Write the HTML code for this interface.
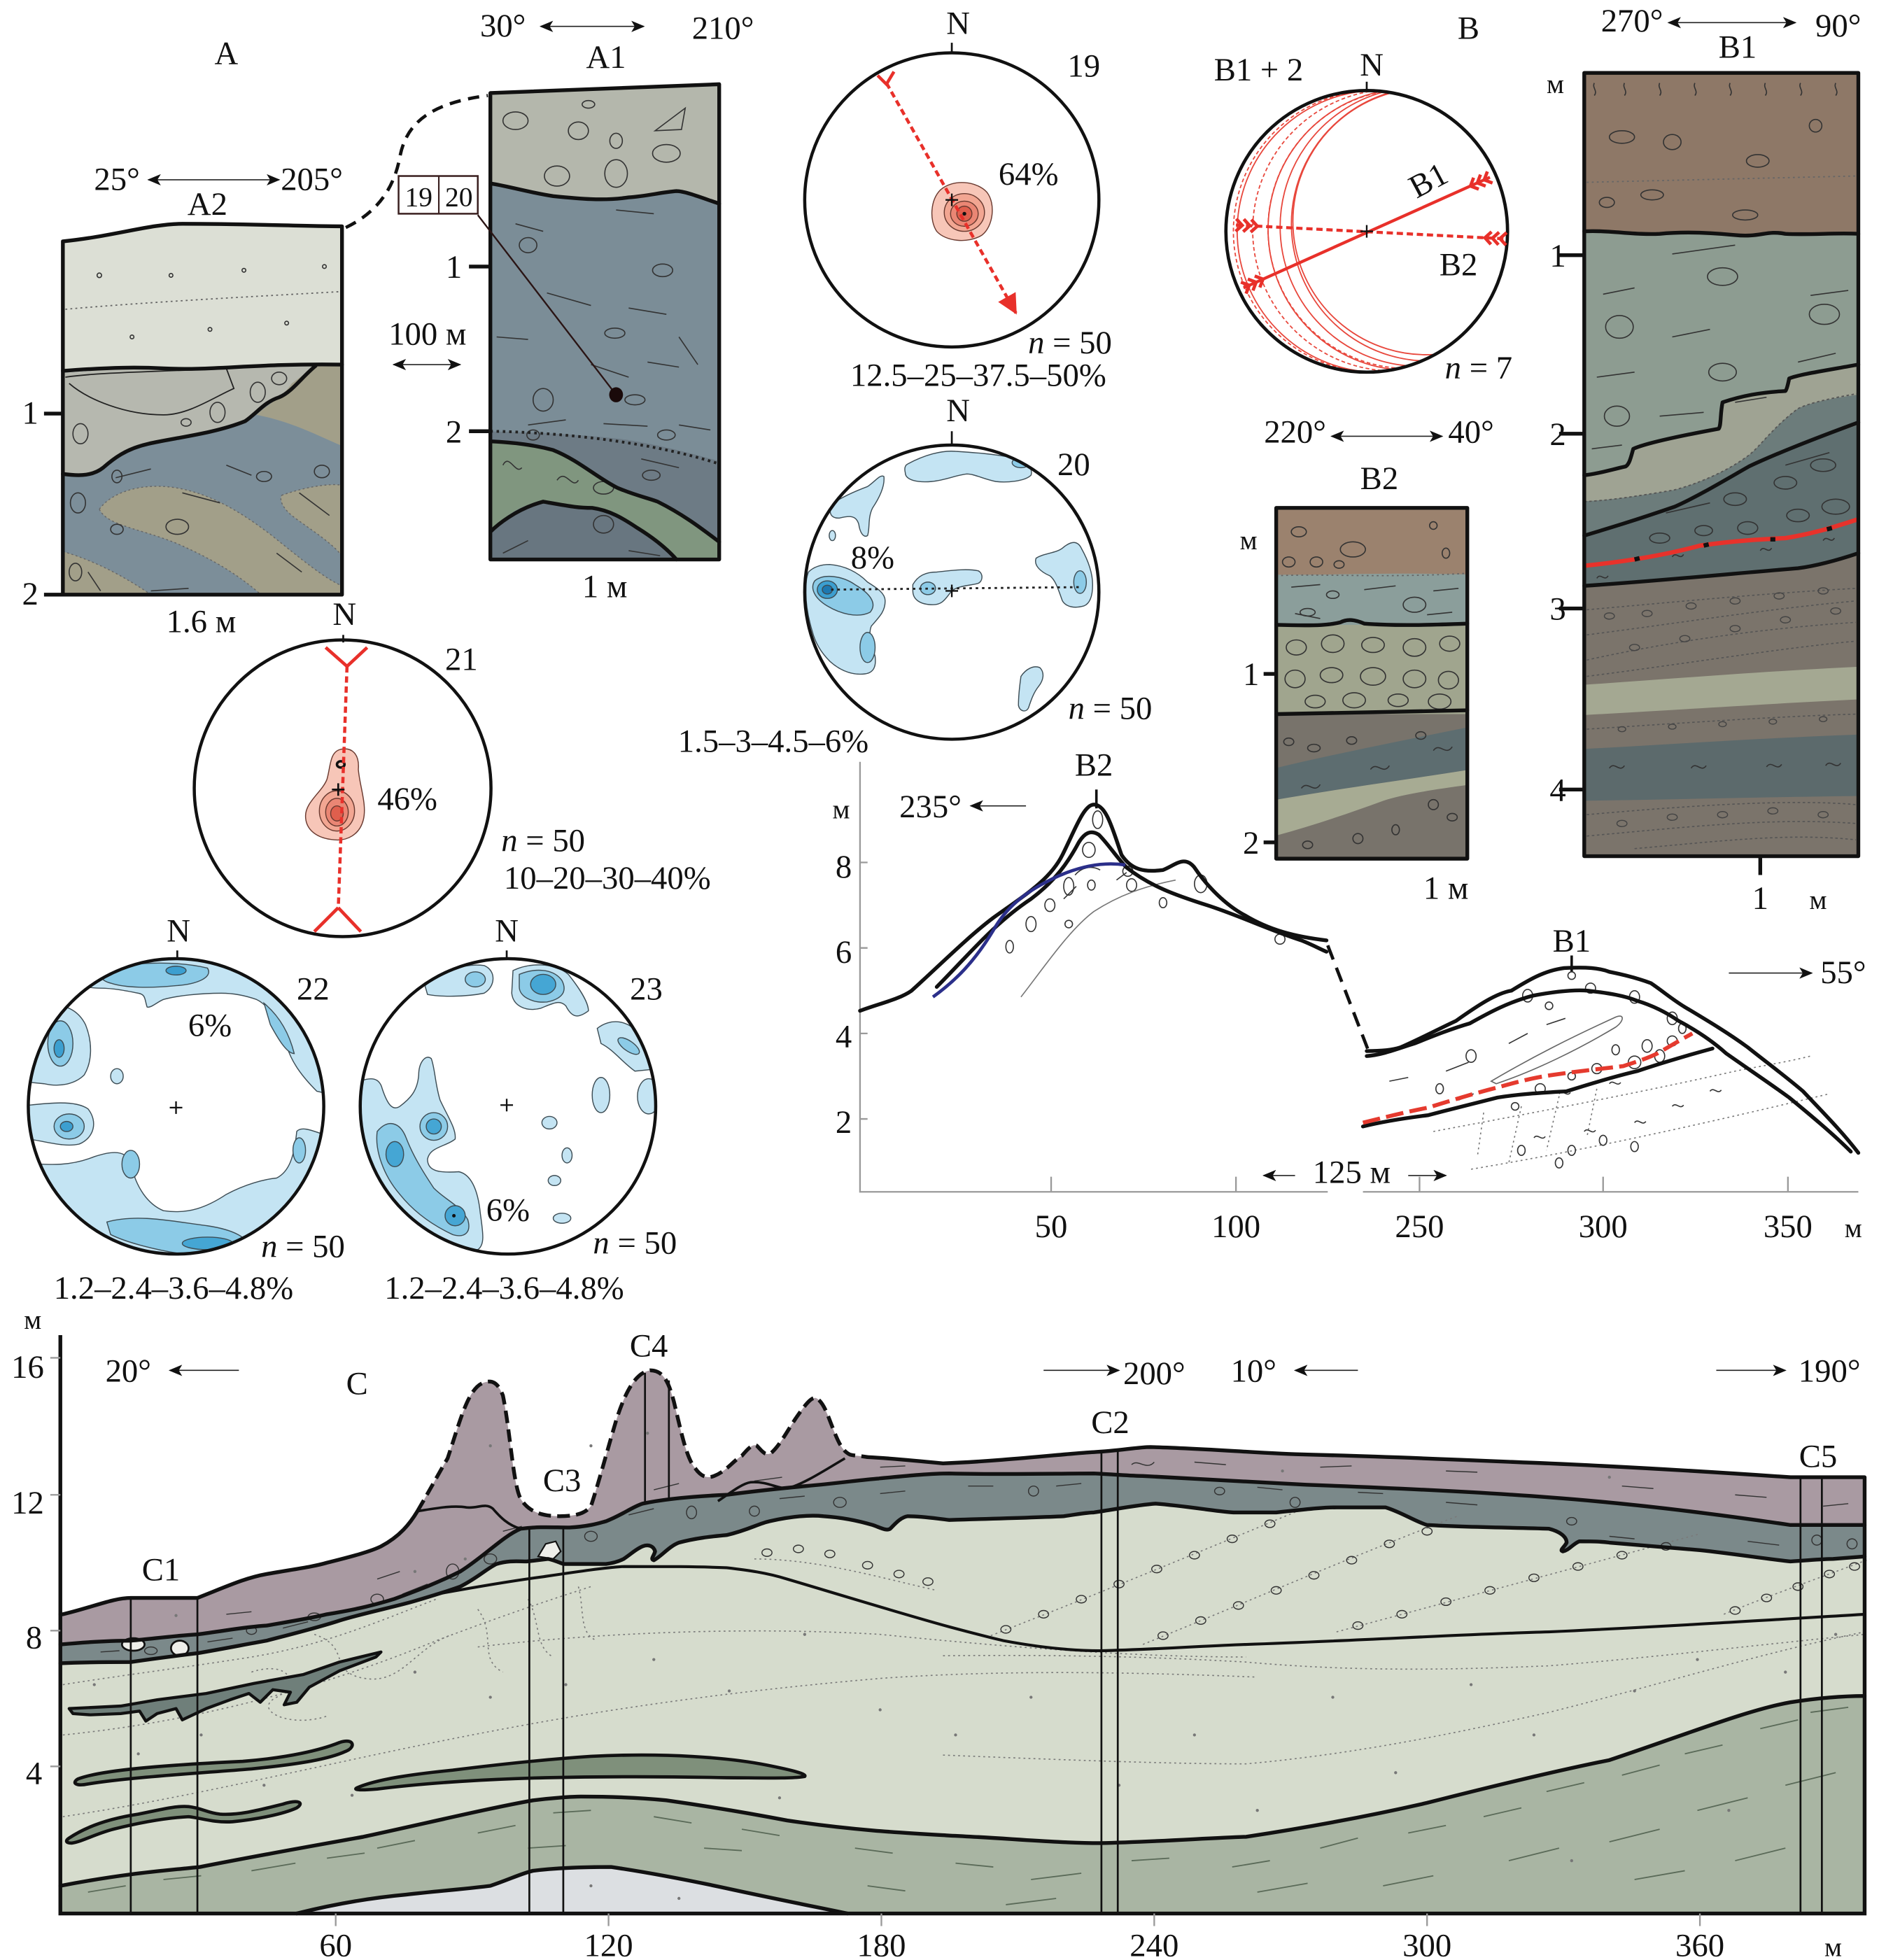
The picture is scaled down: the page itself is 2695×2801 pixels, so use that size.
<!DOCTYPE html>
<html><head><meta charset="utf-8">
<style>
html,body{margin:0;padding:0;background:#fff;}
svg{display:block;font-family:"Liberation Serif","DejaVu Serif",serif;}
text{font-family:"Liberation Serif","DejaVu Serif",serif;font-size:26px;fill:#111;}
.m{text-anchor:middle;}
.k{fill:none;stroke:#111;stroke-width:3;stroke-linejoin:round;stroke-linecap:round;}
.t{fill:none;stroke:#222;stroke-width:1;}
.pb{fill:none;stroke:#333;stroke-width:0.9;}
.dt{fill:none;stroke:#666;stroke-width:1;stroke-dasharray:1.5 2.5;}
.ax{fill:none;stroke:#9a9a9a;stroke-width:1.3;}
.ar{fill:none;stroke:#222;stroke-width:0.9;}
.cl{stroke:#3d4d55;stroke-width:0.8;}
.rc{stroke:#6a3a30;stroke-width:0.8;}
</style></head><body>
<svg width="2695" height="2801" viewBox="0 0 1500 1559" preserveAspectRatio="none" xmlns="http://www.w3.org/2000/svg" font-family="'Liberation Serif', serif">
<defs>
<marker id="ah" viewBox="0 0 12 10" refX="11" refY="5" markerWidth="12" markerHeight="9" markerUnits="userSpaceOnUse" orient="auto-start-reverse"><path d="M0,0 L12,5 L0,10 L3,5 Z" fill="#111"/></marker>
<marker id="rh" viewBox="0 0 12 12" refX="11" refY="6" markerWidth="16" markerHeight="16" markerUnits="userSpaceOnUse" orient="auto"><path d="M0,0 L12,6 L0,12 Z" fill="#e8302a"/></marker>
<clipPath id="cA2"><path d="M50,192 C90,188 120,178 145,178 C200,178 240,180 272,180 L272,473 L50,473 Z"/></clipPath>
<clipPath id="cA1"><path d="M390,74 L572,67 L572,445 L390,445 Z"/></clipPath>
<clipPath id="cB1"><rect x="1260" y="58" width="218" height="623"/></clipPath>
<clipPath id="cB2"><rect x="1015" y="404" width="152" height="279"/></clipPath>
<clipPath id="s20"><circle cx="757" cy="471" r="117"/></clipPath>
<clipPath id="s22"><circle cx="140" cy="880" r="117"/></clipPath>
<clipPath id="s23"><circle cx="404" cy="880" r="117"/></clipPath>
<clipPath id="sB"><circle cx="1087" cy="184" r="111"/></clipPath>
<g id="chev" fill="none" stroke="#e8302a" stroke-width="2.6"><path d="M0,-5 L5,0 L0,5 M6,-5 L11,0 L6,5 M12,-5 L17,0 L12,5"/></g>
</defs>
<rect width="1500" height="1559" fill="#fff"/>

<!-- ========== A ========== -->
<text class="m" x="180" y="51">A</text>
<text class="m" x="400" y="29">30°</text>
<line class="ar" x1="430" y1="21" x2="512" y2="21" marker-start="url(#ah)" marker-end="url(#ah)"/>
<text class="m" x="575" y="31">210°</text>
<text class="m" x="482" y="54">A1</text>
<text class="m" x="93" y="151">25°</text>
<line class="ar" x1="118" y1="143" x2="222" y2="143" marker-start="url(#ah)" marker-end="url(#ah)"/>
<text class="m" x="248" y="151">205°</text>
<text class="m" x="165" y="171">A2</text>

<!-- A2 column -->
<g clip-path="url(#cA2)">
<rect x="40" y="170" width="240" height="310" fill="#7c8e99"/>
<path d="M79,405 C90,390 115,384 140,388 C170,393 195,410 215,425 C240,445 258,460 272,466 L272,480 L215,480 C195,460 170,445 140,432 C110,420 85,418 79,405 Z" fill="#a29f89" stroke="#666" stroke-width="0.8" stroke-dasharray="1.5 2"/>
<path d="M40,436 C70,443 100,458 130,480 L40,480 Z" fill="#a29f89" stroke="#666" stroke-width="0.8" stroke-dasharray="1.5 2"/>
<path d="M224,394 C240,388 262,384 272,386 L272,442 C262,430 245,420 232,410 C225,404 222,398 224,394 Z" fill="#a29f89" stroke="#666" stroke-width="0.8" stroke-dasharray="1.5 2"/>
<path d="M40,170 L280,170 L272,290 C230,288 160,295 120,292 C90,291 70,297 40,297 Z" fill="#dcdfd5"/>
<path d="M40,297 C70,297 90,291 120,292 C160,295 200,289 251,291 C240,300 232,312 222,316 C210,320 205,328 195,335 C170,345 140,348 118,353 C100,357 90,365 82,372 C72,380 58,378 40,375 Z" fill="#b6b8af"/>
<path d="M251,291 L280,290 L280,358 C255,348 235,336 204,330 C212,322 225,316 232,305 Z" fill="#a29f89"/>
</g>
<path class="dt" d="M52,246 C120,240 200,236 270,232"/>
<path class="t" d="M52,300 C80,296 120,296 180,293 L186,309 C170,316 150,330 130,330 C100,330 70,318 55,305"/>
<g class="pb">
<circle cx="79" cy="219" r="1.8"/><circle cx="136" cy="219" r="1.5"/><circle cx="194" cy="215" r="1.5"/><circle cx="258" cy="212" r="1.5"/>
<circle cx="105" cy="268" r="1.5"/><circle cx="167" cy="262" r="1.5"/><circle cx="228" cy="257" r="1.5"/>
<ellipse cx="64" cy="345" rx="6" ry="8"/><ellipse cx="173" cy="328" rx="6" ry="8"/><ellipse cx="148" cy="336" rx="4" ry="3"/>
<ellipse cx="205" cy="312" rx="6" ry="8"/><ellipse cx="222" cy="301" rx="6" ry="5"/>
<ellipse cx="62" cy="400" rx="6" ry="8"/><ellipse cx="93" cy="379" rx="4" ry="5"/><ellipse cx="210" cy="379" rx="6" ry="4"/><ellipse cx="141" cy="419" rx="9" ry="6"/><ellipse cx="93" cy="421" rx="5" ry="4"/><ellipse cx="60" cy="455" rx="5" ry="7"/><ellipse cx="256" cy="375" rx="6" ry="5"/>
<path d="M92,380 L120,373 M145,392 L175,400 M238,392 L262,410 M180,370 L200,378 M120,470 L150,468 M70,455 L80,470 M220,440 L240,455"/>
</g>
<path class="k" d="M50,295 C90,292 110,292 130,293 C170,295 200,289 272,290"/>
<path class="k" d="M50,377 C58,378 72,380 82,372 C90,365 100,357 118,353 C140,348 170,345 195,335 C205,328 210,320 222,316 C232,312 240,300 251,291"/>
<path class="k" d="M50,192 C90,188 120,178 145,178 C200,178 240,180 272,180 L272,473 L50,473 Z"/>
<line x1="35" y1="329" x2="50" y2="329" stroke="#111" stroke-width="3"/>
<line x1="35" y1="473" x2="50" y2="473" stroke="#111" stroke-width="3"/>
<text class="m" x="24" y="337">1</text>
<text class="m" x="24" y="481">2</text>
<text class="m" x="160" y="503">1.6 м</text>

<path d="M275,181 C298,170 313,152 318,125 C323,98 342,82 388,76" fill="none" stroke="#111" stroke-width="2.6" stroke-dasharray="9 6"/>

<!-- A1 column -->
<g clip-path="url(#cA1)">
<rect x="385" y="60" width="195" height="390" fill="#7b8d97"/>
<path d="M385,60 L580,60 L572,162 C560,158 545,152 538,152 C525,153 515,156 500,157 C480,160 460,158 440,156 C420,153 400,147 385,146 Z" fill="#b4b7ac"/>
<path d="M385,343 C430,344 470,346 500,350 C530,355 555,362 580,369 L580,436 C555,418 540,405 523,399 C505,393 495,390 480,383 C465,373 450,362 432,356 C415,352 400,351 385,351 Z" fill="#6d7b85"/>
<path d="M385,351 C410,352 425,354 440,358 C460,366 475,380 491,388 C505,394 515,396 523,399 C545,410 560,422 580,434 L580,450 L538,450 C525,432 515,425 507,420 C490,410 480,404 471,404 C455,403 440,399 432,399 C420,400 410,405 400,413 C395,418 392,421 385,425 Z" fill="#80967f"/>
<path d="M385,425 C400,413 420,400 432,399 C450,399 460,404 471,404 C485,406 495,412 507,420 C520,428 530,436 540,450 L385,450 Z" fill="#687680"/>
</g>
<g class="pb">
<ellipse cx="410" cy="96" rx="10" ry="7"/><ellipse cx="460" cy="104" rx="8" ry="7"/><ellipse cx="490" cy="112" rx="5" ry="6"/><ellipse cx="530" cy="122" rx="11" ry="7"/><ellipse cx="443" cy="140" rx="10" ry="8"/><ellipse cx="490" cy="138" rx="9" ry="11"/><path d="M521,104 L545,86 L542,103 Z"/><ellipse cx="468" cy="83" rx="5" ry="3"/>
<ellipse cx="420" cy="195" rx="7" ry="6"/><ellipse cx="527" cy="215" rx="8" ry="5"/><ellipse cx="489" cy="265" rx="8" ry="4"/><ellipse cx="432" cy="318" rx="8" ry="9"/><ellipse cx="505" cy="318" rx="8" ry="4"/><ellipse cx="530" cy="346" rx="7" ry="4"/><ellipse cx="424" cy="346" rx="5" ry="4"/><ellipse cx="480" cy="388" rx="8" ry="5"/><ellipse cx="480" cy="417" rx="8" ry="7"/><ellipse cx="518" cy="378" rx="7" ry="4"/>
<path d="M410,178 L432,184 M490,167 L520,170 M435,233 L470,243 M500,245 L530,250 M395,268 L420,270 M470,290 L500,300 M515,288 L540,292 M540,268 L555,290 M420,338 L450,334 M480,337 L515,339 M540,338 L565,342 M510,365 L540,372 M400,370 C405,360 410,378 415,372 M443,382 C450,372 455,390 460,382 M400,440 L420,430 M500,438 L525,442"/>
</g>
<path d="M390,343 C450,344 520,352 572,369" fill="none" stroke="#222" stroke-width="2.2" stroke-dasharray="2 3"/>
<path class="k" d="M390,146 C400,147 420,153 440,156 C460,158 480,160 500,157 C515,156 525,153 538,152 C545,152 560,158 572,162"/>
<path class="k" d="M390,351 C410,352 425,354 440,358 C460,366 475,380 491,388 C505,394 515,396 523,399 C545,410 560,422 572,431"/>
<path class="k" d="M390,423 C395,418 410,405 432,399 C455,403 460,404 471,404 C485,406 495,412 507,420 C520,428 530,436 538,445"/>
<path class="k" d="M390,74 L572,67 L572,445 L390,445 Z"/>
<line x1="373" y1="212" x2="390" y2="212" stroke="#111" stroke-width="3"/>
<line x1="373" y1="343" x2="390" y2="343" stroke="#111" stroke-width="3"/>
<text class="m" x="361" y="221">1</text>
<text class="m" x="361" y="352">2</text>
<text class="m" x="481" y="475">1 м</text>
<rect x="317" y="140" width="63" height="30" fill="#fff" stroke="#3a2020" stroke-width="1.4"/>
<line x1="349" y1="140" x2="349" y2="170" stroke="#3a2020" stroke-width="1.2"/>
<text class="m" x="333" y="164" style="font-size:22px">19</text>
<text class="m" x="365" y="164" style="font-size:22px">20</text>
<line x1="380" y1="171" x2="490" y2="314" stroke="#2a1414" stroke-width="1.3"/>
<ellipse cx="490" cy="314" rx="5.5" ry="6" fill="#1a0a0a"/>
<text class="m" x="340" y="274">100 м</text>
<line class="ar" x1="313" y1="290" x2="366" y2="290" marker-start="url(#ah)" marker-end="url(#ah)"/>

<!-- ========== Stereonet 19 ========== -->
<text class="m" x="762" y="27">N</text>
<line x1="757" y1="34" x2="757" y2="42" stroke="#111" stroke-width="1.5"/>
<circle cx="757" cy="159" r="117" fill="none" stroke="#111" stroke-width="2.5"/>
<text class="m" x="862" y="61">19</text>
<path d="M748,151 C758,142 777,144 785,153 C792,162 790,180 781,187 C770,194 752,192 745,184 C739,175 740,159 748,151 Z" fill="#f7c6b8" class="rc"/>
<ellipse cx="767" cy="169" rx="16" ry="15" fill="#f2a692" class="rc"/>
<ellipse cx="767" cy="170" rx="11" ry="10" fill="#ea8674" class="rc"/>
<ellipse cx="767" cy="170" rx="6" ry="6" fill="#df5f4d" class="rc"/>
<circle cx="767" cy="170" r="1.5" fill="#111"/>
<line x1="705" y1="66" x2="808" y2="249" stroke="#e8302a" stroke-width="2.5" stroke-dasharray="5 3" marker-end="url(#rh)"/>
<path d="M698,60 L705,67 L711,57" fill="none" stroke="#e8302a" stroke-width="2.5"/>
<path d="M752,159 L762,159 M757,154 L757,164" stroke="#111" stroke-width="1.3"/>
<text class="m" x="818" y="147">64%</text>
<text class="m" x="851" y="281"><tspan font-style="italic">n</tspan> = 50</text>
<text class="m" x="778" y="307">12.5–25–37.5–50%</text>

<!-- ========== Stereonet 20 ========== -->
<text class="m" x="762" y="335">N</text>
<line x1="757" y1="343" x2="757" y2="354" stroke="#111" stroke-width="1.5"/>
<g clip-path="url(#s20)">
<path d="M722,369 C735,362 749,358 760,359 C775,360 790,361 805,364 C815,366 822,372 820,378 C815,383 800,384 792,383 C782,381 775,377 769,377 C760,378 752,382 741,383 C730,384 720,382 720,376 C719,372 720,370 722,369 Z" fill="#c4e4f3" class="cl"/>
<ellipse cx="812" cy="368" rx="7" ry="4" fill="#8ccbe7" class="cl"/>
<path d="M663,400 C672,394 682,390 690,387 C696,383 700,377 703,379 C704,388 698,398 694,404 C690,412 692,420 690,426 C687,428 684,424 683,417 C681,410 676,410 668,412 C660,413 658,406 663,400 Z" fill="#c4e4f3" class="cl"/>
<ellipse cx="662" cy="426" rx="2.5" ry="4" fill="#c4e4f3" class="cl"/>
<path d="M643,455 C648,450 655,449 660,449 C672,450 682,455 690,463 C698,468 704,472 704,478 C704,486 700,490 693,498 C690,505 694,515 696,522 C697,530 695,535 688,536 C680,537 670,535 660,526 C652,518 648,510 646,502 C643,492 641,482 641,472 C641,465 641,460 643,455 Z" fill="#c4e4f3" class="cl"/>
<path d="M648,462 C655,456 670,458 680,465 C692,472 698,480 692,487 C682,492 668,488 658,482 C648,476 644,468 648,462 Z" fill="#8ccbe7" class="cl"/>
<ellipse cx="658" cy="469" rx="8" ry="7" fill="#3c9fd0" class="cl"/>
<ellipse cx="658" cy="469" rx="4" ry="3.5" fill="#1d78b0" class="cl"/>
<ellipse cx="690" cy="515" rx="6" ry="12" fill="#8ccbe7" class="cl"/>
<path d="M726,465 C730,458 736,455 745,455 C755,454 768,452 778,454 C782,456 782,462 778,464 C770,466 762,466 757,470 C752,476 750,481 742,481 C732,481 726,477 726,470 Z" fill="#c4e4f3" class="cl"/>
<ellipse cx="738" cy="468" rx="6" ry="5" fill="#8ccbe7" class="cl"/>
<path d="M824,444 C830,440 840,440 845,436 C852,430 857,430 860,436 C865,445 869,455 869,465 C869,474 867,480 862,482 C855,484 848,483 845,478 C842,470 840,462 835,458 C828,455 822,450 824,444 Z" fill="#c4e4f3" class="cl"/>
<ellipse cx="859" cy="463" rx="5" ry="9" fill="#8ccbe7" class="cl"/>
<path d="M812,538 C816,532 822,529 827,531 C831,535 830,541 826,546 C822,551 820,557 818,563 C816,567 811,566 810,561 C810,553 811,545 812,538 Z" fill="#c4e4f3" class="cl"/>
</g>
<circle cx="757" cy="471" r="117" fill="none" stroke="#111" stroke-width="2.5"/>
<path d="M661,469 L860,467" fill="none" stroke="#222" stroke-width="1.6" stroke-dasharray="2 3"/>
<path d="M752,470 L762,470 M757,465 L757,475" stroke="#111" stroke-width="1.3"/>
<text class="m" x="854" y="378">20</text>
<text class="m" x="694" y="452">8%</text>
<text class="m" x="883" y="572"><tspan font-style="italic">n</tspan> = 50</text>
<text class="m" x="615" y="598">1.5–3–4.5–6%</text>

<!-- ========== Stereonet B1+2 ========== -->
<text class="m" x="1168" y="31">B</text>
<text class="m" x="1001" y="64">B1 + 2</text>
<text class="m" x="1091" y="60">N</text>
<line x1="1087" y1="65" x2="1087" y2="73" stroke="#111" stroke-width="1.5"/>
<g clip-path="url(#sB)" fill="none" stroke="#e8473c" stroke-width="1">
<path d="M1092,72 A112,112 0 0 0 1100,296"/>
<path d="M1097,73 A112,112 0 0 0 1110,294"/>
<path d="M1101,73 A111,111 0 0 0 1120,291"/>
<path d="M1104,74 A109,109 0 0 0 1130,287"/>
<path d="M1106,74 A106,106 0 0 0 1140,282"/>
<path d="M1094,72 A112,112 0 0 0 1104,295" stroke-dasharray="3 2"/>
<path d="M1099,73 A111,111 0 0 0 1115,293" stroke-dasharray="3 2"/>
<path d="M1090,72 A112,112 0 0 0 1096,296" stroke-dasharray="3 2"/>
</g>
<circle cx="1087" cy="184" r="112" fill="none" stroke="#111" stroke-width="2.6"/>
<line x1="989" y1="229" x2="1185" y2="141" stroke="#e8302a" stroke-width="2.4"/>
<line x1="983" y1="179" x2="1198" y2="190" stroke="#e8302a" stroke-width="2.4" stroke-dasharray="5 3"/>
<use href="#chev" transform="translate(989,229) rotate(-24.2)"/>
<use href="#chev" transform="translate(1185,141) rotate(155.8)"/>
<use href="#chev" transform="translate(983,179) rotate(3)"/>
<use href="#chev" transform="translate(1198,190) rotate(183)"/>
<path d="M1082,184 L1092,184 M1087,179 L1087,189" stroke="#111" stroke-width="1.3"/>
<text class="m" transform="translate(1140,151) rotate(-28)">B1</text>
<text class="m" x="1160" y="219">B2</text>
<text class="m" x="1176" y="301"><tspan font-style="italic">n</tspan> = 7</text>

<text class="m" x="1030" y="352">220°</text>
<line class="ar" x1="1059" y1="347" x2="1147" y2="347" marker-start="url(#ah)" marker-end="url(#ah)"/>
<text class="m" x="1170" y="352">40°</text>
<text class="m" x="1097" y="389">B2</text>

<!-- B2 column -->
<g clip-path="url(#cB2)">
<rect x="1010" y="400" width="160" height="290" fill="#78736b"/>
<rect x="1010" y="400" width="160" height="58" fill="#9b826e"/>
<path d="M1010,457 C1050,458 1100,455 1170,457 L1170,497 L1010,497 Z" fill="#8b9e9b"/>
<path d="M1010,497 L1170,497 L1170,568 L1010,568 Z" fill="#a0a58e"/>
<path d="M1010,612 C1060,600 1120,588 1170,578 L1170,612 C1120,620 1060,628 1010,637 Z" fill="#5d6d70"/>
<path d="M1010,637 C1060,628 1120,620 1170,612 L1170,624 C1140,628 1115,632 1100,637 C1070,648 1040,658 1010,666 Z" fill="#a7ab93"/>
</g>
<path class="dt" d="M1015,458 C1050,456 1100,460 1167,456"/>
<g class="pb">
<ellipse cx="1033" cy="423" rx="6" ry="4"/><ellipse cx="1076" cy="437" rx="10" ry="6"/><ellipse cx="1025" cy="447" rx="5" ry="4"/><ellipse cx="1047" cy="447" rx="5" ry="4"/><ellipse cx="1065" cy="449" rx="4" ry="3"/><ellipse cx="1140" cy="418" rx="3" ry="3"/><ellipse cx="1150" cy="440" rx="3" ry="4"/>
<ellipse cx="1060" cy="473" rx="5" ry="3"/><ellipse cx="1125" cy="481" rx="9" ry="6"/><ellipse cx="1040" cy="487" rx="6" ry="3"/>
<path d="M1027,467 L1050,465 M1085,469 L1110,466 M1140,470 L1160,468 M1030,488 L1050,492 M1135,489 L1155,487"/>
<ellipse cx="1031" cy="515" rx="8" ry="6"/><ellipse cx="1060" cy="512" rx="9" ry="7"/><ellipse cx="1092" cy="513" rx="9" ry="6"/><ellipse cx="1125" cy="515" rx="9" ry="7"/><ellipse cx="1153" cy="512" rx="8" ry="6"/>
<ellipse cx="1030" cy="540" rx="8" ry="7"/><ellipse cx="1059" cy="537" rx="9" ry="6"/><ellipse cx="1092" cy="538" rx="10" ry="7"/><ellipse cx="1125" cy="540" rx="9" ry="7"/><ellipse cx="1152" cy="541" rx="8" ry="7"/>
<ellipse cx="1046" cy="558" rx="8" ry="5"/><ellipse cx="1077" cy="557" rx="9" ry="6"/><ellipse cx="1112" cy="557" rx="8" ry="5"/><ellipse cx="1145" cy="558" rx="9" ry="6"/>
<ellipse cx="1025" cy="590" rx="4" ry="3"/><ellipse cx="1045" cy="595" rx="5" ry="3"/><ellipse cx="1075" cy="589" rx="4" ry="3"/><ellipse cx="1130" cy="585" rx="4" ry="3"/><ellipse cx="1140" cy="640" rx="4" ry="4"/><ellipse cx="1155" cy="650" rx="4" ry="3"/><ellipse cx="1040" cy="672" rx="4" ry="3"/><ellipse cx="1080" cy="667" rx="4" ry="4"/><ellipse cx="1110" cy="660" rx="3" ry="4"/>
<path d="M1035,627 C1040,620 1045,632 1050,624 M1090,612 C1095,605 1100,617 1105,609 M1140,597 C1145,590 1150,602 1155,594"/>
</g>
<path class="k" d="M1015,497 C1050,498 1058,497 1066,495 C1072,492 1078,493 1085,496 C1110,498 1140,497 1167,496"/>
<path class="k" d="M1015,568 C1070,567 1120,566 1167,565"/>
<rect x="1015" y="404" width="152" height="279" class="k"/>
<line x1="1005" y1="536" x2="1015" y2="536" stroke="#111" stroke-width="3"/>
<line x1="1005" y1="670" x2="1015" y2="670" stroke="#111" stroke-width="3"/>
<text class="m" x="993" y="437" style="font-size:22px">м</text>
<text class="m" x="995" y="545">1</text>
<text class="m" x="995" y="679">2</text>
<text class="m" x="1150" y="715">1 м</text>

<!-- B1 column -->
<text class="m" x="1298" y="25">270°</text>
<line class="ar" x1="1327" y1="18" x2="1428" y2="18" marker-start="url(#ah)" marker-end="url(#ah)"/>
<text class="m" x="1462" y="29">90°</text>
<text class="m" x="1382" y="46">B1</text>
<g clip-path="url(#cB1)">
<rect x="1255" y="55" width="230" height="630" fill="#7b746b"/>
<path d="M1255,55 L1485,55 L1485,186 C1460,185 1440,187 1420,186 C1405,183 1400,189 1380,187 C1360,185 1340,184 1320,186 C1300,187 1280,183 1255,184 Z" fill="#8e7867"/>
<path d="M1255,184 C1280,183 1300,187 1320,186 C1340,184 1360,185 1380,187 C1400,189 1405,183 1420,186 C1440,187 1460,185 1485,186 L1485,290 C1450,295 1430,298 1423,301 C1422,306 1421,310 1420,311 C1400,312 1385,315 1370,320 C1368,330 1369,338 1367,341 C1340,346 1310,352 1299,357 C1297,364 1296,369 1293,371 C1280,374 1270,377 1255,378 Z" fill="#8d9c91"/>
<path d="M1255,378 C1270,377 1280,374 1293,371 C1296,369 1297,364 1299,357 C1310,352 1340,346 1367,341 C1369,338 1368,330 1370,320 C1385,315 1400,312 1420,311 C1421,310 1422,306 1423,301 C1430,298 1450,295 1485,290 L1485,313 C1460,316 1440,320 1430,325 C1410,340 1400,355 1391,362 C1370,378 1340,388 1330,390 C1300,395 1280,398 1255,399 Z" fill="#9fa393"/>
<path d="M1255,399 C1280,398 1300,395 1330,390 C1340,388 1370,378 1391,362 C1400,355 1410,340 1430,325 C1440,320 1460,316 1485,313 L1485,336 C1440,350 1410,362 1391,371 C1370,383 1350,395 1332,403 C1300,414 1280,420 1255,426 Z" fill="#6c7c7b"/>
<path d="M1255,426 C1280,420 1300,414 1332,403 C1350,395 1370,383 1391,371 C1410,362 1440,350 1485,336 L1485,440 C1460,446 1445,450 1430,452 C1380,456 1320,462 1255,466 Z" fill="#5f6f70"/>
<path d="M1255,545 C1330,540 1400,534 1485,530 L1485,556 C1400,560 1330,565 1255,569 Z" fill="#a4a892"/>
<path d="M1255,596 C1330,592 1400,587 1485,584 L1485,633 C1400,634 1330,636 1255,637 Z" fill="#5c6a6c"/>
</g>
<g class="pb">
<path d="M1268,66 c-2,4 3,6 0,10 M1292,66 c-2,4 3,6 0,10 M1320,66 c-2,4 3,6 0,10 M1348,66 c-2,4 3,6 0,10 M1376,66 c-2,4 3,6 0,10 M1404,66 c-2,4 3,6 0,10 M1432,66 c-2,4 3,6 0,10 M1460,66 c-2,4 3,6 0,10"/>
<ellipse cx="1290" cy="109" rx="10" ry="5"/><ellipse cx="1330" cy="113" rx="7" ry="6"/><ellipse cx="1444" cy="100" rx="5" ry="5"/><ellipse cx="1398" cy="128" rx="9" ry="5"/><ellipse cx="1278" cy="161" rx="6" ry="4"/><ellipse cx="1314" cy="155" rx="9" ry="4"/><ellipse cx="1388" cy="171" rx="10" ry="4"/>
<path class="dt" d="M1262,145 L1476,140"/>
<ellipse cx="1370" cy="220" rx="12" ry="7"/><ellipse cx="1288" cy="260" rx="11" ry="9"/><ellipse cx="1451" cy="250" rx="12" ry="8"/><ellipse cx="1370" cy="296" rx="11" ry="7"/><ellipse cx="1286" cy="331" rx="10" ry="8"/>
<path d="M1330,202 L1380,195 M1275,234 L1300,229 M1440,235 L1470,231 M1330,268 L1360,262 M1270,300 L1300,296 M1430,288 L1460,281 M1380,320 L1405,316 M1266,357 L1290,354 M1320,331 L1355,328 M1325,408 L1360,400 M1420,370 L1455,360"/>
<ellipse cx="1320" cy="428" rx="8" ry="4"/><ellipse cx="1355" cy="422" rx="7" ry="4"/><ellipse cx="1390" cy="420" rx="8" ry="5"/><ellipse cx="1430" cy="410" rx="9" ry="5"/><ellipse cx="1460" cy="403" rx="11" ry="6"/><ellipse cx="1420" cy="384" rx="9" ry="5"/><ellipse cx="1450" cy="370" rx="10" ry="5"/><ellipse cx="1380" cy="397" rx="9" ry="5"/>
<path d="M1270,460 c3,-5 6,3 9,-2 M1330,443 c3,-5 6,3 9,-2 M1400,438 c3,-5 6,3 9,-2 M1450,430 c3,-5 6,3 9,-2"/>
<path d="M1280,611 c4,-6 8,4 12,-2 M1345,611 c4,-6 8,4 12,-2 M1405,610 c4,-6 8,4 12,-2 M1452,609 c4,-6 8,4 12,-2"/>
</g>
<g fill="none" stroke="#555" stroke-width="0.9" stroke-dasharray="2 2">
<path d="M1262,485 C1320,480 1400,472 1476,468"/><path d="M1262,505 C1340,495 1400,485 1476,478"/><path d="M1262,525 C1330,510 1400,500 1476,495"/><path d="M1262,538 C1340,528 1420,515 1476,510"/>
<path d="M1262,580 C1340,575 1410,570 1476,568"/><path d="M1262,648 C1330,642 1420,635 1476,640"/><path d="M1262,665 C1340,658 1410,650 1476,655"/><path d="M1300,675 C1360,670 1420,662 1476,668"/>
</g>
<g fill="none" stroke="#444" stroke-width="0.8">
<ellipse cx="1280" cy="490" rx="4" ry="2.5"/><ellipse cx="1310" cy="488" rx="4" ry="2.5"/><ellipse cx="1345" cy="482" rx="4" ry="2.5"/><ellipse cx="1380" cy="478" rx="4" ry="2.5"/><ellipse cx="1415" cy="474" rx="4" ry="2.5"/><ellipse cx="1450" cy="470" rx="4" ry="2.5"/>
<ellipse cx="1300" cy="515" rx="4" ry="2.5"/><ellipse cx="1340" cy="508" rx="4" ry="2.5"/><ellipse cx="1380" cy="500" rx="4" ry="2.5"/><ellipse cx="1420" cy="493" rx="4" ry="2.5"/><ellipse cx="1460" cy="486" rx="4" ry="2.5"/>
<ellipse cx="1290" cy="580" rx="3" ry="2"/><ellipse cx="1330" cy="578" rx="3" ry="2"/><ellipse cx="1370" cy="576" rx="3" ry="2"/><ellipse cx="1410" cy="574" rx="3" ry="2"/><ellipse cx="1450" cy="572" rx="3" ry="2"/>
<ellipse cx="1290" cy="655" rx="4" ry="2.5"/><ellipse cx="1330" cy="650" rx="4" ry="2.5"/><ellipse cx="1370" cy="648" rx="4" ry="2.5"/><ellipse cx="1410" cy="645" rx="4" ry="2.5"/><ellipse cx="1450" cy="648" rx="4" ry="2.5"/>
</g>
<path fill="none" stroke="#555" stroke-width="1" stroke-dasharray="2 2" d="M1260,399 C1280,398 1300,395 1330,390 C1340,388 1370,378 1391,362 C1400,355 1410,340 1430,325 C1440,320 1460,316 1478,313"/>
<path class="k" d="M1260,184 C1280,183 1300,187 1320,186 C1340,184 1360,185 1380,187 C1400,189 1405,183 1420,186 C1440,187 1460,185 1478,186"/>
<path class="k" d="M1260,378 C1270,377 1280,374 1293,371 C1296,369 1297,364 1299,357 C1310,352 1340,346 1367,341 C1369,338 1368,330 1370,320 C1385,315 1400,312 1420,311 C1421,310 1422,306 1423,301 C1430,298 1450,295 1478,290"/>
<path class="k" d="M1260,426 C1280,420 1300,414 1332,403 C1350,395 1370,383 1391,371 C1410,362 1440,350 1478,336"/>
<path class="k" d="M1260,466 C1320,462 1380,456 1430,452 C1445,450 1460,446 1478,440"/>
<path d="M1260,450 C1300,446 1330,440 1352,434 C1380,430 1400,429 1420,428 C1445,424 1462,418 1478,413" fill="none" stroke="#e8322b" stroke-width="3.5"/>
<g stroke="#111" stroke-width="3.5"><line x1="1300" y1="445" x2="1304" y2="444"/><line x1="1355" y1="434" x2="1359" y2="433"/><line x1="1408" y1="429" x2="1412" y2="429"/><line x1="1453" y1="421" x2="1457" y2="420"/></g>
<rect x="1260" y="58" width="218" height="623" class="k"/>
<g stroke="#111" stroke-width="3"><line x1="1240" y1="203" x2="1260" y2="203"/><line x1="1240" y1="345" x2="1260" y2="345"/><line x1="1240" y1="484" x2="1260" y2="484"/><line x1="1240" y1="628" x2="1260" y2="628"/><line x1="1400" y1="681" x2="1400" y2="696"/></g>
<text class="m" x="1237" y="74" style="font-size:22px">м</text>
<text class="m" x="1239" y="212">1</text>
<text class="m" x="1239" y="354">2</text>
<text class="m" x="1239" y="493">3</text>
<text class="m" x="1239" y="637">4</text>
<text class="m" x="1400" y="723">1</text>
<text class="m" x="1446" y="723" style="font-size:22px">м</text>

<!-- ========== Section B profile ========== -->
<path class="ax" d="M684,606 L684,948 L1056,948 M1084,948 L1478,948"/>
<path class="ax" d="M684,686 L690,686 M684,754 L690,754 M684,822 L690,822 M684,890 L690,890 M836,936 L836,948 M983,936 L983,948 M1129,936 L1129,948 M1275,936 L1275,948 M1422,936 L1422,948"/>
<text class="m" x="669" y="651" style="font-size:22px">м</text>
<text class="m" x="671" y="698">8</text>
<text class="m" x="671" y="766">6</text>
<text class="m" x="671" y="833">4</text>
<text class="m" x="671" y="901">2</text>
<text class="m" x="836" y="984">50</text>
<text class="m" x="983" y="984">100</text>
<text class="m" x="1129" y="984">250</text>
<text class="m" x="1275" y="984">300</text>
<text class="m" x="1422" y="984">350</text>
<text class="m" x="1474" y="984" style="font-size:22px">м</text>
<text class="m" x="740" y="650">235°</text>
<line class="ar" x1="816" y1="641" x2="772" y2="641" marker-end="url(#ah)"/>
<text class="m" x="870" y="617">B2</text>
<line x1="872" y1="628" x2="872" y2="643" stroke="#111" stroke-width="2"/>
<text class="m" x="1250" y="757">B1</text>
<line x1="1250" y1="760" x2="1250" y2="773" stroke="#111" stroke-width="2"/>
<line class="ar" x1="1375" y1="774" x2="1441" y2="774" marker-end="url(#ah)"/>
<text class="m" x="1466" y="782">55°</text>
<line class="ar" x1="1030" y1="935" x2="1005" y2="935" marker-end="url(#ah)"/>
<text class="m" x="1075" y="941">125 м</text>
<line class="ar" x1="1120" y1="935" x2="1150" y2="935" marker-end="url(#ah)"/>
<g class="pb">
<ellipse cx="873" cy="652" rx="4" ry="7"/><ellipse cx="866" cy="676" rx="5" ry="6"/><ellipse cx="850" cy="705" rx="4" ry="7"/><ellipse cx="835" cy="720" rx="4" ry="5"/><ellipse cx="820" cy="735" rx="4" ry="6"/><ellipse cx="803" cy="753" rx="3" ry="5"/><ellipse cx="900" cy="704" rx="4" ry="5"/><ellipse cx="925" cy="718" rx="3" ry="4"/><ellipse cx="955" cy="703" rx="5" ry="7"/><ellipse cx="897" cy="693" rx="4" ry="4"/><ellipse cx="868" cy="704" rx="3" ry="4"/><ellipse cx="850" cy="735" rx="3" ry="3"/><ellipse cx="1018" cy="747" rx="4" ry="4"/>
<path d="M855,696 C860,690 868,688 875,692 M846,715 L856,705 M888,700 L896,694"/>
</g>
<path d="M812,793 C830,770 850,740 870,725 C890,712 910,705 935,700" fill="none" stroke="#777" stroke-width="0.9"/>
<path class="k" d="M684,804 C700,798 715,795 725,788 C745,770 770,745 790,730 C815,712 835,700 845,680 C855,660 862,640 870,640 C880,640 885,660 892,680 C900,692 910,694 925,692 C935,688 942,680 950,690 C960,705 975,720 990,728 C1010,740 1030,745 1055,748"/>
<path class="k" d="M745,785 C770,760 790,735 820,715 C840,700 850,685 858,670 C863,662 868,660 874,664 C882,672 888,682 896,690 C915,705 935,712 960,720 C985,728 1010,740 1035,748 C1045,752 1050,755 1055,757"/>
<path d="M742,793 C760,780 775,765 790,740 C800,722 815,710 835,700 C855,690 875,685 895,688" fill="none" stroke="#2b2f8a" stroke-width="2.6"/>
<path d="M1056,752 L1090,840" fill="none" stroke="#111" stroke-width="2.6" stroke-dasharray="12 7"/>
<g fill="none" stroke="#777" stroke-width="0.9" stroke-dasharray="1.5 2.5">
<path d="M1140,900 C1220,885 1300,870 1380,852 C1400,848 1420,845 1440,840"/>
<path d="M1170,930 C1260,915 1350,895 1455,870"/>
<path d="M1180,885 L1175,920 M1210,880 L1200,925 M1240,872 L1230,915 M1270,866 L1262,905"/>
</g>
<path d="M1186,860 C1220,840 1250,825 1285,809 C1292,806 1292,812 1285,817 C1255,835 1220,852 1190,862 Z" fill="none" stroke="#666" stroke-width="0.9"/>
<g class="pb">
<ellipse cx="1250" cy="776" rx="3" ry="3"/><ellipse cx="1215" cy="792" rx="4" ry="5"/><ellipse cx="1232" cy="800" rx="3" ry="3"/><ellipse cx="1265" cy="786" rx="4" ry="4"/><ellipse cx="1300" cy="793" rx="4" ry="5"/><ellipse cx="1330" cy="810" rx="4" ry="5"/><ellipse cx="1170" cy="840" rx="4" ry="5"/><ellipse cx="1145" cy="866" rx="3" ry="4"/>
<ellipse cx="1310" cy="832" rx="4" ry="5"/><ellipse cx="1320" cy="840" rx="4" ry="5"/><ellipse cx="1300" cy="845" rx="5" ry="5"/><ellipse cx="1330" cy="828" rx="4" ry="4"/><ellipse cx="1285" cy="835" rx="3" ry="4"/><ellipse cx="1270" cy="850" rx="4" ry="4"/><ellipse cx="1250" cy="856" rx="3" ry="3"/><ellipse cx="1225" cy="866" rx="4" ry="4"/><ellipse cx="1205" cy="880" rx="3" ry="3"/><ellipse cx="1338" cy="818" rx="3" ry="4"/>
<path d="M1105,860 L1120,857 M1150,852 L1168,845 M1200,830 L1215,822 M1230,815 L1245,810 M1160,875 L1172,870"/>
<path d="M1240,870 c3,-4 6,3 9,-1 M1280,862 c3,-4 6,3 9,-1 M1220,905 c3,-4 6,3 9,-1 M1260,900 c3,-4 6,3 9,-1 M1300,893 c3,-4 6,3 9,-1 M1330,880 c3,-4 6,3 9,-1 M1360,868 c3,-4 6,3 9,-1"/>
<ellipse cx="1210" cy="915" rx="3" ry="4"/><ellipse cx="1250" cy="915" rx="3" ry="4"/><ellipse cx="1275" cy="907" rx="3" ry="4"/><ellipse cx="1300" cy="912" rx="3" ry="4"/><ellipse cx="1240" cy="925" rx="3" ry="4"/>
</g>
<path class="k" d="M1087,836 C1100,836 1108,835 1114,833 C1130,826 1145,818 1158,812 C1175,800 1190,790 1202,788 C1215,780 1228,772 1244,770 C1262,769 1272,770 1280,773 C1295,776 1305,779 1313,782 C1322,788 1330,795 1340,801 C1360,813 1375,822 1390,833 C1405,845 1420,856 1434,868 C1450,885 1465,900 1478,917"/>
<path class="k" d="M1087,840 C1100,839 1112,834 1125,830 C1140,824 1155,818 1169,814 C1185,805 1200,797 1219,792 C1235,789 1250,787 1263,788 C1280,790 1292,792 1302,796 C1315,800 1325,805 1335,812 C1350,820 1362,828 1373,838 C1390,850 1408,862 1423,873 C1440,887 1458,902 1472,916"/>
<path class="k" d="M1084,896 C1100,892 1120,889 1136,887 C1155,882 1175,877 1191,873 C1210,870 1230,869 1246,868 C1265,862 1285,856 1302,852 C1320,846 1340,840 1362,834"/>
<path d="M1084,893 C1100,889 1120,884 1136,881 C1155,875 1175,869 1191,865 C1205,861 1220,857 1235,855 C1255,852 1275,850 1291,848 C1300,845 1310,842 1318,838 C1325,834 1335,828 1346,822" fill="none" stroke="#e53a2e" stroke-width="3.2" stroke-dasharray="14 5"/>

<!-- ========== Stereonet 21 ========== -->
<text class="m" x="274" y="497">N</text>
<line x1="273" y1="505" x2="273" y2="511" stroke="#111" stroke-width="1.5"/>
<circle cx="272.5" cy="627" r="118" fill="none" stroke="#111" stroke-width="2.5"/>
<path d="M271,596 C280,594 286,600 285,612 C286,625 292,640 289,652 C286,664 276,669 266,668 C252,667 243,660 243,649 C243,638 256,630 260,620 C263,610 262,598 271,596 Z" fill="#f7c6b8" class="rc"/>
<ellipse cx="268" cy="645" rx="14" ry="16" fill="#f2a692" class="rc"/>
<ellipse cx="268" cy="646" rx="9" ry="11" fill="#ea8674" class="rc"/>
<ellipse cx="268" cy="647" rx="5" ry="6" fill="#df5f4d" class="rc"/>
<ellipse cx="271" cy="608" rx="3" ry="2.5" fill="none" stroke="#111" stroke-width="2"/>
<line x1="276" y1="530" x2="269" y2="724" stroke="#e8302a" stroke-width="2.5" stroke-dasharray="5 3"/>
<path d="M259,515 L276,530 L292,515" fill="none" stroke="#e8302a" stroke-width="2.6"/>
<path d="M269,722 L250,741 M269,722 L287,741" fill="none" stroke="#e8302a" stroke-width="2.6"/>
<path d="M264,628 L274,628 M269,623 L269,633" stroke="#111" stroke-width="1.5"/>
<text class="m" x="367" y="533">21</text>
<text class="m" x="324" y="644">46%</text>
<text class="m" x="432" y="677"><tspan font-style="italic">n</tspan> = 50</text>
<text class="m" x="483" y="707">10–20–30–40%</text>

<!-- ========== Stereonet 22 ========== -->
<text class="m" x="142" y="749">N</text>
<line x1="141" y1="756" x2="141" y2="763" stroke="#111" stroke-width="1.5"/>
<g clip-path="url(#s22)">
<path d="M60,755 L200,755 C235,780 250,820 262,850 L270,872 L252,868 C240,856 232,845 228,832 C222,815 215,800 204,795 C190,790 180,790 176,790 C160,790 140,792 130,795 C125,797 120,802 117,801 C115,795 116,791 110,790 C100,788 90,786 80,786 C70,786 62,784 60,780 Z" fill="#c4e4f3" class="cl"/>
<path d="M82,772 C100,765 140,764 165,770 C170,778 155,783 140,784 C120,786 100,786 88,782 C80,780 78,775 82,772 Z" fill="#8ccbe7" class="cl"/>
<ellipse cx="140" cy="772" rx="8" ry="3.5" fill="#3c9fd0" class="cl"/>
<path d="M210,798 C222,808 230,822 234,838 C228,838 221,826 215,815 Z" fill="#8ccbe7" class="cl"/>
<path d="M15,795 L40,798 C55,800 63,805 68,815 C74,830 73,845 67,855 C60,862 48,865 35,862 L15,860 Z" fill="#c4e4f3" class="cl"/>
<ellipse cx="48" cy="830" rx="10" ry="18" fill="#8ccbe7" class="cl"/>
<ellipse cx="47" cy="834" rx="4" ry="7" fill="#3c9fd0" class="cl"/>
<path d="M15,880 C40,877 60,875 70,882 C78,892 75,905 63,910 C50,913 35,907 15,905 Z" fill="#c4e4f3" class="cl"/>
<ellipse cx="55" cy="896" rx="12" ry="10" fill="#8ccbe7" class="cl"/>
<ellipse cx="53" cy="896" rx="5" ry="4" fill="#3c9fd0" class="cl"/>
<ellipse cx="93" cy="856" rx="5" ry="6" fill="#c4e4f3" class="cl"/>
<path d="M15,925 C30,925 50,930 75,920 C90,915 100,915 104,925 C108,945 118,958 130,963 C150,966 165,960 180,950 C195,942 210,938 220,937 C230,932 234,920 236,900 C240,895 250,900 265,905 L265,1010 L15,1010 Z" fill="#c4e4f3" class="cl"/>
<ellipse cx="104" cy="926" rx="7" ry="11" fill="#8ccbe7" class="cl"/>
<path d="M85,972 C110,965 140,972 165,975 C185,978 200,985 195,992 L150,998 C125,995 100,988 88,982 Z" fill="#8ccbe7" class="cl"/>
<ellipse cx="165" cy="989" rx="20" ry="5" fill="#45a6d4" class="cl"/>
<ellipse cx="238" cy="915" rx="5" ry="10" fill="#8ccbe7" class="cl"/>
</g>
<circle cx="140" cy="880" r="117.5" fill="none" stroke="#111" stroke-width="2.5"/>
<path d="M135,881 L145,881 M140,876 L140,886" stroke="#111" stroke-width="1.3"/>
<text class="m" x="249" y="795">22</text>
<text class="m" x="167" y="824">6%</text>
<text class="m" x="241" y="1000"><tspan font-style="italic">n</tspan> = 50</text>
<text class="m" x="138" y="1033">1.2–2.4–3.6–4.8%</text>

<!-- ========== Stereonet 23 ========== -->
<text class="m" x="403" y="749">N</text>
<line x1="403" y1="756" x2="403" y2="763" stroke="#111" stroke-width="1.5"/>
<g clip-path="url(#s23)">
<path d="M338,784 C352,772 370,766 385,768 C395,772 394,785 385,790 C370,793 350,793 340,791 Z" fill="#c4e4f3" class="cl"/>
<ellipse cx="378" cy="779" rx="8" ry="6" fill="#8ccbe7" class="cl"/>
<path d="M408,772 C420,766 440,765 452,775 C460,785 468,797 468,804 C460,810 455,810 450,800 C445,795 440,798 430,802 C418,805 408,800 407,790 Z" fill="#c4e4f3" class="cl"/>
<path d="M413,775 C425,770 440,770 447,780 C452,790 445,795 435,797 C422,798 413,792 413,785 Z" fill="#8ccbe7" class="cl"/>
<ellipse cx="432" cy="783" rx="10" ry="8" fill="#45a6d4" class="cl"/>
<path d="M475,818 C485,810 500,810 510,825 L525,850 L505,852 C495,845 488,835 478,830 Z" fill="#c4e4f3" class="cl"/>
<ellipse cx="500" cy="832" rx="10" ry="4" fill="#8ccbe7" class="cl" transform="rotate(35 500 832)"/>
<ellipse cx="478" cy="871" rx="7" ry="14" fill="#c4e4f3" class="cl"/>
<ellipse cx="516" cy="872" rx="9" ry="14" fill="#c4e4f3" class="cl"/>
<ellipse cx="437" cy="893" rx="6" ry="5" fill="#c4e4f3" class="cl"/>
<ellipse cx="451" cy="919" rx="4" ry="6" fill="#c4e4f3" class="cl"/>
<ellipse cx="441" cy="939" rx="5" ry="4" fill="#c4e4f3" class="cl"/>
<ellipse cx="447" cy="969" rx="7" ry="4" fill="#c4e4f3" class="cl"/>
<path d="M282,862 C296,855 302,858 304,866 C308,878 312,884 318,880 C326,874 332,868 333,855 C333,846 338,838 343,842 C346,850 346,862 350,875 C356,888 363,898 362,906 C355,912 342,912 340,922 C340,932 350,933 365,932 C374,934 380,945 382,965 C384,980 386,990 380,994 C365,994 345,988 330,980 C315,970 300,955 293,940 C285,925 280,900 282,880 Z" fill="#c4e4f3" class="cl"/>
<path d="M300,900 C308,890 318,892 323,905 C328,918 335,930 345,945 C355,955 365,958 372,970 C375,980 370,985 360,982 C345,975 330,965 318,950 C305,935 298,915 300,900 Z" fill="#8ccbe7" class="cl"/>
<ellipse cx="314" cy="918" rx="7" ry="10" fill="#45a6d4" class="cl"/>
<ellipse cx="362" cy="967" rx="8" ry="8" fill="#45a6d4" class="cl"/>
<circle cx="361" cy="967" r="1.4" fill="#111"/>
<circle cx="345" cy="896" r="11" fill="#8ccbe7" class="cl"/>
<circle cx="345" cy="896" r="6" fill="#45a6d4" class="cl"/>
</g>
<circle cx="404" cy="880" r="117.5" fill="none" stroke="#111" stroke-width="2.5"/>
<path d="M398,879 L408,879 M403,874 L403,884" stroke="#111" stroke-width="1.3"/>
<text class="m" x="514" y="795">23</text>
<text class="m" x="404" y="971">6%</text>
<text class="m" x="505" y="997"><tspan font-style="italic">n</tspan> = 50</text>
<text class="m" x="401" y="1033">1.2–2.4–3.6–4.8%</text>

<!-- ========== Section C ========== -->
<path d="M48,1284 L50,1284 C75,1278 90,1271 104,1271 L157,1271 C180,1262 195,1255 212,1252 C235,1248 250,1246 260,1243 C280,1238 295,1234 303,1230 C318,1222 326,1212 332,1202 C342,1185 350,1170 356,1160 C366,1130 372,1105 384,1100 C392,1097 396,1100 400,1110 C406,1140 408,1180 414,1192 C420,1202 430,1206 445,1206 C460,1206 466,1203 470,1198 C476,1180 484,1150 490,1130 C497,1108 505,1092 517,1090 C528,1090 532,1100 536,1115 C542,1140 546,1160 553,1168 C558,1175 563,1176 568,1174 C578,1170 583,1162 590,1158 C595,1152 599,1148 602,1150 C606,1154 608,1158 613,1156 C620,1150 625,1140 633,1128 C640,1118 645,1111 649,1112 C655,1115 658,1125 662,1135 C667,1148 670,1154 676,1157 C680,1158 684,1158 690,1159 C710,1160 730,1162 750,1164 C800,1162 850,1156 870,1155 C890,1154 905,1151 915,1151 C960,1152 1000,1156 1040,1157 C1120,1159 1180,1162 1232,1164 C1300,1167 1380,1172 1424,1175 L1483,1175 L1483,1522 L48,1522 Z" fill="#a99aa2"/>
<path d="M48,1308 C70,1306 90,1305 104,1305 C125,1303 140,1301 157,1300 C180,1297 195,1294 212,1293 C235,1289 248,1287 260,1284 C285,1280 300,1276 313,1272 C335,1264 350,1258 366,1250 C385,1238 400,1222 414,1216 C430,1214 440,1215 453,1215 C470,1214 478,1211 482,1210 C495,1205 502,1199 511,1196 C530,1192 555,1190 578,1189 C600,1186 620,1184 641,1182 C665,1180 685,1177 699,1176 C720,1174 740,1172 755,1172 C800,1173 840,1172 870,1172 C890,1173 900,1174 909,1174 C960,1177 1000,1179 1039,1181 C1120,1184 1180,1187 1232,1191 C1300,1196 1370,1205 1424,1213 L1483,1213 L1483,1522 L48,1522 Z" fill="#7b898a"/>
<path d="M48,1323 C70,1322 90,1322 104,1322 C125,1319 140,1317 157,1315 C180,1311 195,1308 212,1305 C235,1299 255,1294 270,1289 C290,1283 310,1279 328,1274 C345,1269 355,1266 366,1262 C380,1255 388,1247 395,1244 C405,1241 412,1242 419,1242 L436,1240 C441,1241 445,1243 448,1244 C460,1244 470,1244 482,1244 C490,1243 494,1241 496,1240 C502,1236 506,1232 511,1230 C516,1228 520,1230 521,1234 C520,1238 517,1240 520,1241 C526,1238 532,1230 540,1227 C555,1223 568,1222 578,1221 C595,1217 603,1212 612,1210 C630,1206 645,1205 655,1206 C670,1207 684,1210 694,1213 C700,1215 705,1218 708,1216 C712,1212 716,1207 722,1206 C735,1206 745,1208 755,1209 C790,1208 825,1207 846,1206 C860,1204 865,1203 870,1203 C890,1200 905,1197 919,1196 C945,1198 965,1202 981,1203 C1000,1203 1010,1203 1015,1203 C1035,1201 1050,1199 1063,1199 C1080,1199 1090,1199 1102,1199 C1115,1203 1125,1210 1135,1213 C1170,1215 1205,1215 1232,1216 C1240,1218 1246,1222 1246,1227 C1244,1231 1240,1233 1243,1234 C1248,1233 1251,1228 1256,1226 C1265,1226 1272,1226 1280,1227 C1305,1229 1330,1231 1352,1233 C1380,1236 1405,1240 1424,1242 C1440,1241 1450,1240 1458,1240 L1483,1238 L1483,1522 L48,1522 Z" fill="#d6dccd"/>
<path d="M48,1500 C100,1490 130,1488 159,1485 C210,1475 250,1468 289,1461 C340,1450 390,1438 424,1432 C440,1430 455,1429 462,1429 C490,1429 510,1430 530,1432 C565,1437 600,1443 626,1448 C680,1456 720,1458 755,1460 C800,1462 840,1466 875,1466 C920,1465 960,1462 991,1461 C1050,1452 1100,1442 1135,1434 C1190,1420 1240,1408 1280,1400 C1340,1380 1390,1360 1424,1354 C1450,1350 1470,1349 1483,1349 L1483,1522 L48,1522 Z" fill="#a9b5a3"/>
<path d="M236,1522 C260,1516 290,1510 323,1507 C350,1504 375,1502 390,1500 C405,1495 415,1490 424,1488 C440,1486 460,1485 486,1485 C520,1490 550,1496 578,1502 C610,1509 645,1516 674,1522 Z" fill="#dcdfe2"/>

<g fill="none" stroke="#7a7a7a" stroke-width="0.9" stroke-dasharray="1.5 2.5">
<path d="M50,1340 C100,1332 150,1326 200,1318 C260,1308 300,1290 347,1272"/>
<path d="M50,1380 C150,1370 250,1345 347,1305 C400,1285 430,1275 470,1262"/>
<path d="M50,1445 C150,1430 250,1405 350,1385 C450,1365 550,1348 700,1335 C800,1328 900,1330 1000,1334"/>
<path d="M380,1310 C480,1298 600,1294 700,1300 C800,1310 900,1318 991,1318"/>
<path d="M750,1317 C850,1316 920,1318 991,1322 C1080,1330 1160,1328 1232,1325 C1320,1318 1400,1308 1483,1300"/>
<path d="M750,1396 C850,1400 930,1403 991,1403 C1080,1395 1160,1378 1232,1362 C1320,1340 1400,1315 1483,1298"/>
<path d="M200,1330 C230,1320 240,1340 220,1350 C200,1360 230,1375 260,1365"/>
<path d="M250,1300 C280,1310 260,1330 290,1335 C320,1340 330,1310 360,1300"/>
<path d="M380,1280 C395,1300 380,1320 400,1330 M420,1272 C430,1290 425,1310 440,1318 M460,1262 C465,1280 460,1300 475,1305"/>
<path d="M788,1301 C880,1265 960,1232 1039,1199"/>
<path d="M909,1308 C990,1275 1070,1240 1159,1206"/>
<path d="M1063,1298 C1160,1272 1260,1245 1352,1220"/>
<path d="M1371,1284 C1410,1268 1450,1254 1487,1240"/>
<path d="M600,1240 C650,1240 700,1255 745,1265"/>
</g>
<g fill="none" stroke="#333" stroke-width="0.8">
<ellipse cx="800" cy="1296" rx="4" ry="3"/><ellipse cx="830" cy="1284" rx="4" ry="3"/><ellipse cx="860" cy="1272" rx="4" ry="3"/><ellipse cx="890" cy="1260" rx="4" ry="3"/><ellipse cx="920" cy="1248" rx="4" ry="3"/><ellipse cx="950" cy="1237" rx="4" ry="3"/><ellipse cx="980" cy="1224" rx="4" ry="3"/><ellipse cx="1010" cy="1212" rx="4" ry="3"/>
<ellipse cx="925" cy="1301" rx="4" ry="3"/><ellipse cx="955" cy="1289" rx="4" ry="3"/><ellipse cx="985" cy="1277" rx="4" ry="3"/><ellipse cx="1015" cy="1265" rx="4" ry="3"/><ellipse cx="1045" cy="1253" rx="4" ry="3"/><ellipse cx="1075" cy="1241" rx="4" ry="3"/><ellipse cx="1105" cy="1228" rx="4" ry="3"/><ellipse cx="1135" cy="1218" rx="4" ry="3"/>
<ellipse cx="1080" cy="1293" rx="4" ry="3"/><ellipse cx="1115" cy="1284" rx="4" ry="3"/><ellipse cx="1150" cy="1274" rx="4" ry="3"/><ellipse cx="1185" cy="1265" rx="4" ry="3"/><ellipse cx="1220" cy="1255" rx="4" ry="3"/><ellipse cx="1255" cy="1246" rx="4" ry="3"/><ellipse cx="1290" cy="1237" rx="4" ry="3"/><ellipse cx="1325" cy="1230" rx="4" ry="3"/>
<ellipse cx="1380" cy="1281" rx="4" ry="3"/><ellipse cx="1405" cy="1271" rx="4" ry="3"/><ellipse cx="1430" cy="1262" rx="4" ry="3"/><ellipse cx="1455" cy="1252" rx="4" ry="3"/><ellipse cx="1475" cy="1246" rx="4" ry="3"/>
<ellipse cx="610" cy="1235" rx="4" ry="3"/><ellipse cx="635" cy="1232" rx="4" ry="3"/><ellipse cx="660" cy="1236" rx="4" ry="3"/><ellipse cx="690" cy="1245" rx="4" ry="3"/><ellipse cx="715" cy="1252" rx="4" ry="3"/><ellipse cx="738" cy="1258" rx="4" ry="3"/>
<ellipse cx="120" cy="1313" rx="5" ry="3"/><ellipse cx="200" cy="1297" rx="4" ry="3"/><ellipse cx="250" cy="1286" rx="5" ry="3"/><ellipse cx="300" cy="1272" rx="5" ry="4"/><ellipse cx="360" cy="1250" rx="5" ry="6"/><ellipse cx="390" cy="1240" rx="5" ry="4"/><ellipse cx="470" cy="1222" rx="5" ry="4"/><ellipse cx="550" cy="1203" rx="4" ry="5"/><ellipse cx="600" cy="1202" rx="4" ry="4"/><ellipse cx="668" cy="1195" rx="5" ry="4"/><ellipse cx="822" cy="1186" rx="4" ry="4"/><ellipse cx="970" cy="1186" rx="4" ry="3"/><ellipse cx="1030" cy="1195" rx="4" ry="4"/><ellipse cx="1250" cy="1210" rx="4" ry="3"/><ellipse cx="1445" cy="1225" rx="4" ry="4"/><ellipse cx="1473" cy="1228" rx="4" ry="4"/>
<path d="M80,1314 L95,1313 M165,1306 L185,1303 M225,1295 L245,1290 M320,1268 L340,1260 M500,1205 L520,1200 M620,1192 L640,1190 M700,1188 L720,1186 M770,1182 L790,1182 M840,1182 L860,1180 M1000,1183 L1020,1185 M1080,1187 L1100,1188 M1150,1195 L1175,1197 M1280,1222 L1300,1224 M1390,1226 L1415,1229"/>
<path d="M180,1284 L200,1282 M300,1256 L318,1250 M400,1218 L415,1214 M520,1185 L540,1180 M600,1178 L622,1175 M700,1167 L720,1166 M950,1163 L975,1165 M1050,1167 L1075,1166 M1150,1170 L1175,1171 M1290,1182 L1315,1184 M1380,1189 L1405,1191 M1450,1198 L1470,1196 M900,1165 C905,1160 912,1170 918,1163"/>
</g>
<g fill="none" stroke="#5a6a58" stroke-width="1">
<path d="M70,1505 L100,1500 M130,1495 L160,1492 M200,1488 L235,1482 M260,1478 L290,1474 M300,1470 L330,1464 M380,1458 L410,1452 M440,1442 L470,1440 M520,1445 L550,1450 M590,1455 L620,1460 M680,1470 L710,1474 M760,1482 L790,1485 M820,1495 L860,1490 M900,1480 L930,1478 M980,1485 L1010,1480 M1050,1470 L1080,1462 M1120,1458 L1150,1452 M1180,1445 L1210,1438 M1230,1425 L1260,1418 M1290,1412 L1320,1404 M1340,1395 L1370,1388 M1400,1375 L1430,1368 M1440,1362 L1470,1358 M1100,1500 L1140,1492 M1200,1480 L1240,1470 M1280,1465 L1320,1455 M1350,1440 L1390,1430 M1420,1420 L1460,1410 M1000,1505 L1040,1498 M1300,1495 L1340,1488 M1380,1480 L1420,1470 M800,1515 L840,1510 M690,1500 L720,1504 M420,1470 L450,1468 M560,1470 L590,1472"/>
</g>
<g fill="#777">
<circle cx="75" cy="1340" r="1.2"/><circle cx="110" cy="1395" r="1.2"/><circle cx="160" cy="1380" r="1.2"/><circle cx="210" cy="1420" r="1.2"/><circle cx="280" cy="1428" r="1.2"/><circle cx="330" cy="1330" r="1.2"/><circle cx="390" cy="1350" r="1.2"/><circle cx="450" cy="1340" r="1.2"/><circle cx="520" cy="1320" r="1.2"/><circle cx="580" cy="1345" r="1.2"/><circle cx="640" cy="1300" r="1.2"/><circle cx="700" cy="1360" r="1.2"/><circle cx="760" cy="1380" r="1.2"/><circle cx="820" cy="1350" r="1.2"/><circle cx="890" cy="1420" r="1.2"/><circle cx="950" cy="1380" r="1.2"/><circle cx="1000" cy="1440" r="1.2"/><circle cx="1060" cy="1350" r="1.2"/><circle cx="1110" cy="1410" r="1.2"/><circle cx="1170" cy="1340" r="1.2"/><circle cx="1220" cy="1380" r="1.2"/><circle cx="1300" cy="1345" r="1.2"/><circle cx="1350" cy="1320" r="1.2"/><circle cx="1420" cy="1330" r="1.2"/><circle cx="1460" cy="1300" r="1.2"/><circle cx="560" cy="1410" r="1.2"/><circle cx="620" cy="1430" r="1.2"/><circle cx="470" cy="1500" r="1.2"/><circle cx="540" cy="1510" r="1.2"/><circle cx="1375" cy="1440" r="1.2"/><circle cx="1250" cy="1480" r="1.2"/><circle cx="370" cy="1240" r="1.2"/><circle cx="330" cy="1250" r="1.2"/><circle cx="470" cy="1150" r="1.2"/><circle cx="515" cy="1140" r="1.2"/><circle cx="390" cy="1150" r="1.2"/><circle cx="1280" cy="1175" r="1.2"/><circle cx="1020" cy="1170" r="1.2"/><circle cx="140" cy="1285" r="1.2"/>
</g>
<path d="M62,1415 C80,1408 130,1404 193,1401 C230,1398 255,1392 270,1386 C282,1382 283,1390 275,1393 C262,1399 240,1403 200,1407 C150,1411 100,1414 70,1419 C60,1421 57,1418 62,1415 Z" fill="#7f907b" stroke="#111" stroke-width="2.6"/>
<path d="M284,1422 C300,1415 330,1411 360,1408 C400,1403 440,1399 470,1397 C530,1394 580,1398 610,1404 C630,1408 642,1411 640,1413 C630,1415 600,1414 578,1414 C530,1413 480,1413 434,1414 C390,1415 340,1418 300,1423 C288,1424 280,1424 284,1422 Z" fill="#7f907b" stroke="#111" stroke-width="2.6"/>
<path d="M55,1462 C70,1452 90,1446 110,1443 C125,1440 140,1436 150,1437 C160,1438 165,1442 175,1443 C190,1444 205,1440 225,1435 C238,1431 242,1434 236,1438 C225,1443 205,1447 185,1449 C170,1450 160,1446 150,1445 C130,1446 110,1450 90,1455 C75,1459 65,1465 57,1466 C52,1466 52,1464 55,1462 Z" fill="#7f907b" stroke="#111" stroke-width="2.6"/>
<path d="M55,1359 L96,1357 L125,1352 L164,1347 L202,1339 L241,1332 L270,1322 L303,1314 L299,1318 L270,1329 L246,1342 L236,1354 L226,1356 L231,1346 L217,1344 L207,1354 L198,1347 L183,1352 L164,1359 L145,1368 L140,1359 L125,1363 L116,1369 L111,1361 L96,1363 L72,1364 L58,1363 Z" fill="#6f7f7a" stroke="#111" stroke-width="2.4" stroke-linejoin="round"/>
<ellipse cx="106" cy="1308" rx="9" ry="5" fill="#eeeeea" stroke="#111" stroke-width="1.5"/>
<ellipse cx="143" cy="1311" rx="7" ry="6" fill="#eeeeea" stroke="#111" stroke-width="1.5"/>
<path d="M428,1238 L434,1228 L442,1226 L446,1234 L440,1240 Z" fill="#eeeeea" stroke="#111" stroke-width="1.2"/>
<path class="k" d="M48,1284 L50,1284 C75,1278 90,1271 104,1271 L157,1271 C180,1262 195,1255 212,1252 C235,1248 250,1246 260,1243 C280,1238 295,1234 303,1230 C318,1222 326,1212 332,1202"/>
<path d="M332,1202 C342,1185 350,1170 356,1160 C366,1130 372,1105 384,1100 C392,1097 396,1100 400,1110 C406,1140 408,1180 414,1192 C420,1202 430,1206 445,1206 C460,1206 466,1203 470,1198 C476,1180 484,1150 490,1130 C497,1108 505,1092 517,1090 C528,1090 532,1100 536,1115 C542,1140 546,1160 553,1168 C558,1175 563,1176 568,1174 C578,1170 583,1162 590,1158 C595,1152 599,1148 602,1150 C606,1154 608,1158 613,1156 C620,1150 625,1140 633,1128 C640,1118 645,1111 649,1112 C655,1115 658,1125 662,1135 C667,1148 670,1154 676,1157 C680,1158 684,1158 690,1159" fill="none" stroke="#111" stroke-width="3" stroke-dasharray="10 5"/>
<path class="k" d="M690,1159 C710,1160 730,1162 750,1164 C800,1162 850,1156 870,1155 C890,1154 905,1151 915,1151 C960,1152 1000,1156 1040,1157 C1120,1159 1180,1162 1232,1164 C1300,1167 1380,1172 1424,1175 L1483,1175"/>
<path d="M332,1202 C345,1200 360,1197 371,1199 C380,1200 386,1195 392,1200 C398,1207 404,1213 414,1216" fill="none" stroke="#111" stroke-width="2"/>
<path d="M571,1194 C580,1188 590,1180 597,1179 C610,1178 618,1184 626,1184 C640,1180 655,1170 672,1160" fill="none" stroke="#111" stroke-width="2"/>
<path class="k" d="M48,1308 C70,1306 90,1305 104,1305 C125,1303 140,1301 157,1300 C180,1297 195,1294 212,1293 C235,1289 248,1287 260,1284 C285,1280 300,1276 313,1272 C335,1264 350,1258 366,1250 C385,1238 400,1222 414,1216 C430,1214 440,1215 453,1215 C470,1214 478,1211 482,1210 C495,1205 502,1199 511,1196 C530,1192 555,1190 578,1189 C600,1186 620,1184 641,1182 C665,1180 685,1177 699,1176 C720,1174 740,1172 755,1172 C800,1173 840,1172 870,1172 C890,1173 900,1174 909,1174 C960,1177 1000,1179 1039,1181 C1120,1184 1180,1187 1232,1191 C1300,1196 1370,1205 1424,1213 L1483,1213"/>
<path class="k" d="M48,1323 C70,1322 90,1322 104,1322 C125,1319 140,1317 157,1315 C180,1311 195,1308 212,1305 C235,1299 255,1294 270,1289 C290,1283 310,1279 328,1274 C345,1269 355,1266 366,1262 C380,1255 388,1247 395,1244 C405,1241 412,1242 419,1242 L436,1240 C441,1241 445,1243 448,1244 C460,1244 470,1244 482,1244 C490,1243 494,1241 496,1240 C502,1236 506,1232 511,1230 C516,1228 520,1230 521,1234 C520,1238 517,1240 520,1241 C526,1238 532,1230 540,1227 C555,1223 568,1222 578,1221 C595,1217 603,1212 612,1210 C630,1206 645,1205 655,1206 C670,1207 684,1210 694,1213 C700,1215 705,1218 708,1216 C712,1212 716,1207 722,1206 C735,1206 745,1208 755,1209 C790,1208 825,1207 846,1206 C860,1204 865,1203 870,1203 C890,1200 905,1197 919,1196 C945,1198 965,1202 981,1203 C1000,1203 1010,1203 1015,1203 C1035,1201 1050,1199 1063,1199 C1080,1199 1090,1199 1102,1199 C1115,1203 1125,1210 1135,1213 C1170,1215 1205,1215 1232,1216 C1240,1218 1246,1222 1246,1227 C1244,1231 1240,1233 1243,1234 C1248,1233 1251,1228 1256,1226 C1265,1226 1272,1226 1280,1227 C1305,1229 1330,1231 1352,1233 C1380,1236 1405,1240 1424,1242 C1440,1241 1450,1240 1458,1240 L1483,1238"/>
<path class="k" style="stroke-width:2.3" d="M347,1268 C380,1262 410,1257 433,1254 C460,1250 480,1247 496,1246 C530,1246 555,1246 578,1247 C595,1249 610,1251 626,1256 C670,1269 715,1283 755,1294 C770,1298 785,1302 798,1305 C830,1311 855,1313 875,1313 C920,1312 960,1309 991,1308 C1080,1305 1160,1300 1232,1298 C1320,1294 1400,1289 1483,1284"/>
<path class="k" d="M48,1500 C100,1490 130,1488 159,1485 C210,1475 250,1468 289,1461 C340,1450 390,1438 424,1432 C440,1430 455,1429 462,1429 C490,1429 510,1430 530,1432 C565,1437 600,1443 626,1448 C680,1456 720,1458 755,1460 C800,1462 840,1466 875,1466 C920,1465 960,1462 991,1461 C1050,1452 1100,1442 1135,1434 C1190,1420 1240,1408 1280,1400 C1340,1380 1390,1360 1424,1354 C1450,1350 1470,1349 1483,1349"/>
<path class="k" d="M236,1522 C260,1516 290,1510 323,1507 C350,1504 375,1502 390,1500 C405,1495 415,1490 424,1488 C440,1486 460,1485 486,1485 C520,1490 550,1496 578,1502 C610,1509 645,1516 674,1522"/>
<g stroke="#111" stroke-width="1.5">
<line x1="104" y1="1271" x2="104" y2="1522"/><line x1="157" y1="1271" x2="157" y2="1522"/>
<line x1="421" y1="1214" x2="421" y2="1522"/><line x1="448" y1="1214" x2="448" y2="1522"/>
<line x1="513" y1="1092" x2="513" y2="1196"/><line x1="532" y1="1098" x2="532" y2="1192"/>
<line x1="876" y1="1155" x2="876" y2="1522"/><line x1="889" y1="1154" x2="889" y2="1522"/>
<line x1="1432" y1="1175" x2="1432" y2="1522"/><line x1="1449" y1="1175" x2="1449" y2="1522"/>
</g>
<path d="M48,1062 L48,1522 L1483,1522 L1483,1175" fill="none" stroke="#111" stroke-width="3"/>
<path class="ax" d="M40,1080 L48,1080 M40,1189 L48,1189 M40,1297 L48,1297 M40,1405 L48,1405 M267,1522 L267,1532 M484,1522 L484,1532 M701,1522 L701,1532 M918,1522 L918,1532 M1135,1522 L1135,1532 M1352,1522 L1352,1532"/>
<text class="m" x="26" y="1057" style="font-size:22px">м</text>
<text class="m" x="22" y="1096">16</text>
<text class="m" x="22" y="1204">12</text>
<text class="m" x="27" y="1311">8</text>
<text class="m" x="27" y="1419">4</text>
<text class="m" x="267" y="1556">60</text>
<text class="m" x="484" y="1556">120</text>
<text class="m" x="701" y="1556">180</text>
<text class="m" x="918" y="1556">240</text>
<text class="m" x="1135" y="1556">300</text>
<text class="m" x="1352" y="1556">360</text>
<text class="m" x="1458" y="1556" style="font-size:22px">м</text>
<text class="m" x="102" y="1099">20°</text>
<line class="ar" x1="190" y1="1090" x2="135" y2="1090" marker-end="url(#ah)"/>
<text class="m" x="284" y="1109">C</text>
<text class="m" x="516" y="1079">C4</text>
<text class="m" x="447" y="1186">C3</text>
<text class="m" x="128" y="1257">C1</text>
<line class="ar" x1="830" y1="1090" x2="890" y2="1090" marker-end="url(#ah)"/>
<text class="m" x="918" y="1101">200°</text>
<text class="m" x="997" y="1099">10°</text>
<line class="ar" x1="1080" y1="1090" x2="1030" y2="1090" marker-end="url(#ah)"/>
<line class="ar" x1="1365" y1="1090" x2="1420" y2="1090" marker-end="url(#ah)"/>
<text class="m" x="1455" y="1099">190°</text>
<text class="m" x="883" y="1140">C2</text>
<text class="m" x="1446" y="1167">C5</text>
</svg>
</body></html>
